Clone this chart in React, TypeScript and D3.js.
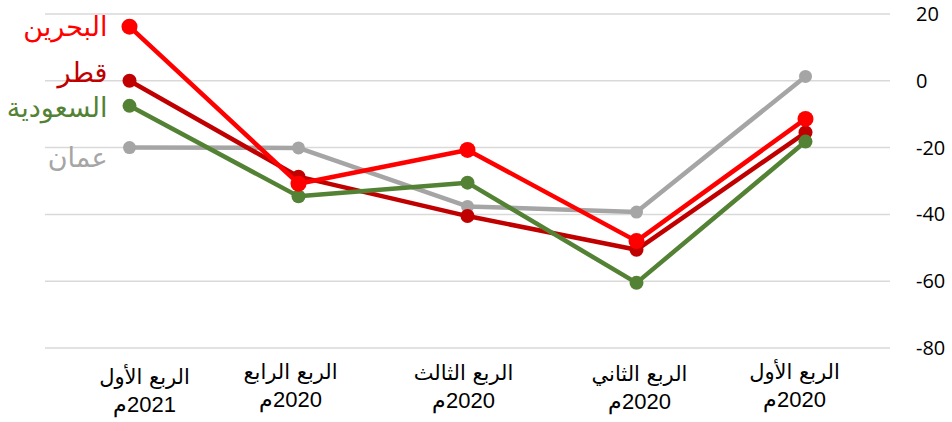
import React, { useRef, useEffect } from 'react';
import * as d3 from 'd3';

const categories = [
  ['الربع الأول', '2021م'],
  ['الربع الرابع', '2020م'],
  ['الربع الثالث', '2020م'],
  ['الربع الثاني', '2020م'],
  ['الربع الأول', '2020م'],
];
// small per-label nudges, the original labels sit a little off-centre
const catAdjustX = [15, -8, -4, 3, -11];
const catAdjustY = [5, 0, 1, 2, 0];
const yTicks = [20, 0, -20, -40, -60, -80];

const bahrain = [16.2, -30.8, -20.7, -48, -11.4];
const qatar = [0, -28.7, -40.5, -50.6, -15.5];
const saudi = [-7.5, -34.6, -30.5, -60.5, -18.2];
const oman = [-20, -20.1, -37.6, -39.3, 1.3];

// drawn in this order (last on top)
const series = [
  { name: 'عمان', values: oman, color: '#a5a5a5', r: 6.5, labelDy: 10 },
  { name: 'قطر', values: qatar, color: '#c00000', r: 7, labelDy: -8 },
  { name: 'السعودية', values: saudi, color: '#548235', r: 7, labelDy: 2 },
  { name: 'البحرين', values: bahrain, color: '#ff0000', r: 8, labelDy: 0 },
];

const App = () => {
  const svgRef = useRef<SVGSVGElement>(null);

  useEffect(() => {
    const width = 952;
    const height = 422;
    const margin = { top: 14, right: 62, bottom: 74, left: 45 };

    const svg = d3.select(svgRef.current)
      .attr('width', width)
      .attr('height', height)
      .style('background', 'white');
    svg.selectAll('*').remove();

    const x = d3.scaleBand()
      .domain(categories.map((_, i) => String(i)))
      .range([margin.left, width - margin.right]);
    const y = d3.scaleLinear().domain([-80, 20]).range([height - margin.bottom, margin.top]);
    const cx = (i: number) => (x(String(i)) as number) + x.bandwidth() / 2;

    // gridlines
    svg.append('g')
      .selectAll('line')
      .data(yTicks)
      .join('line')
      .attr('x1', margin.left)
      .attr('x2', width - margin.right)
      .attr('y1', d => y(d))
      .attr('y2', d => y(d))
      .attr('stroke', '#d9d9d9')
      .attr('stroke-width', 1.5);

    // y tick labels on the right
    svg.append('g')
      .selectAll('text')
      .data(yTicks)
      .join('text')
      .attr('x', width - margin.right + 26)
      .attr('y', d => y(d))
      .attr('dy', '0.35em')
      .attr('fill', '#000')
      .style('font-family', '"Open Sans", "Noto Sans", sans-serif')
      .style('font-size', '20px')
      .text(d => String(d));

    // category labels
    const cat = svg.append('g')
      .selectAll('text')
      .data(categories)
      .join('text')
      .attr('direction', 'rtl')
      .attr('text-anchor', 'middle')
      .attr('fill', '#000')
      .style('font-family', '"DejaVu Sans", sans-serif')
      .style('font-size', '21px');
    cat.append('tspan')
      .attr('x', (_, i) => cx(i) + catAdjustX[i])
      .attr('y', (_, i) => 379 + catAdjustY[i])
      .text(d => d[0]);
    cat.append('tspan')
      .attr('x', (_, i) => cx(i) + catAdjustX[i])
      .attr('y', (_, i) => 407 + catAdjustY[i])
      .style('font-family', '"Liberation Sans", sans-serif')
      .style('font-size', '22px')
      .text(d => d[1]);

    const line = d3.line<number>()
      .x((_, i) => cx(i))
      .y(d => y(d));

    series.forEach(s => {
      svg.append('path')
        .datum(s.values)
        .attr('fill', 'none')
        .attr('stroke', s.color)
        .attr('stroke-width', 4.5)
        .attr('stroke-linejoin', 'round')
        .attr('d', line);

      svg.append('g')
        .selectAll('circle')
        .data(s.values)
        .join('circle')
        .attr('cx', (_, i) => cx(i))
        .attr('cy', d => y(d))
        .attr('r', s.r)
        .attr('fill', s.color);
    });

    // series labels next to first point
    series.forEach(s => {
      svg.append('text')
        .attr('x', cx(0) - 22)
        .attr('y', y(s.values[0]) + s.labelDy)
        .attr('dy', '0.35em')
        .attr('text-anchor', 'end')
        .attr('fill', s.color)
        .style('font-family', '"DejaVu Sans", sans-serif')
        .style('font-size', '27px')
        .text(s.name);
    });
  }, []);

  return (
    <div style={{ position: 'absolute', left: 0, top: 0 }}>
      <svg ref={svgRef}></svg>
    </div>
  );
};

export default App;
